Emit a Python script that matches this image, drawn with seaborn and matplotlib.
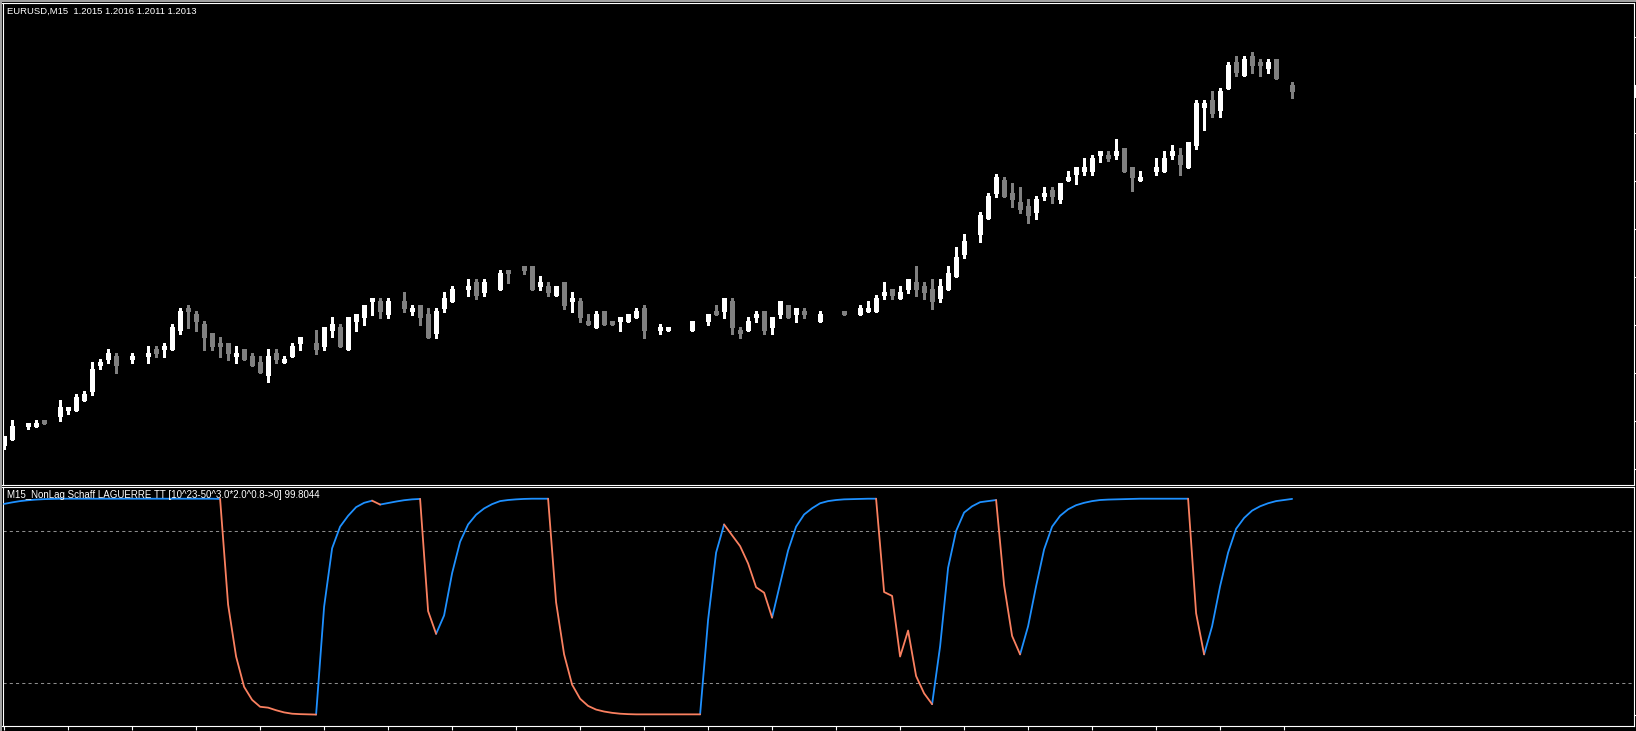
import numpy as np
import pandas as pd
import matplotlib
matplotlib.use("Agg")
import matplotlib.pyplot as plt
import matplotlib.transforms as mtransforms
from matplotlib.patches import Rectangle
import seaborn as sns

nan = np.nan

# ---------------- data (EURUSD M15) ----------------
symbol_title = "EURUSD,M15  1.2015 1.2016 1.2011 1.2013"
indicator_title = "M15_NonLag Schaff LAGUERRE TT [10^23-50^3.0*2.0^0.8->0] 99.8044"

open_ = [1.19024, 1.19043, nan, 1.19084, 1.19084, 1.19104, nan, 1.19115, 1.19133, 1.19134,
         1.19164, 1.19193, 1.19273, 1.19292, 1.19305, nan, 1.19292, nan, 1.19301, 1.19326,
         1.19323, 1.19323, 1.19383, 1.19455, 1.19436, 1.19405, 1.19376, 1.19345, 1.19345, 1.19301,
         1.19326, 1.19305, 1.19286, 1.19242, 1.19314, 1.19283, 1.19301, 1.19342, nan, 1.19345,
         1.19333, 1.19384, 1.19395, 1.19323, 1.19411, 1.19423, 1.19473, 1.19476, 1.19433, nan,
         1.19476, 1.19442, 1.19464, 1.19436, 1.19373, 1.19451, 1.19473, nan, 1.19511, 1.19536,
         1.19501, nan, 1.19511, 1.19573, nan, 1.19586, 1.19586, 1.19520, 1.19523, 1.19492,
         1.19536, 1.19473, 1.19476, 1.19414, 1.19392, 1.19445, 1.19414, 1.19411, 1.19411, 1.19423,
         1.19455, nan, 1.19383, 1.19383, nan, nan, 1.19383, nan, 1.19411, 1.19445,
         1.19442, 1.19476, 1.19386, 1.19383, 1.19423, 1.19445, 1.19392, 1.19433, 1.19464, 1.19433,
         1.19445, nan, 1.19411, nan, nan, 1.19445, nan, 1.19433, 1.19442, 1.19442,
         1.19492, 1.19514, 1.19483, 1.19511, 1.19536, 1.19523, 1.19514, 1.19483, 1.19511, 1.19551,
         1.19620, nan, 1.19683, 1.19733, 1.19811, 1.19855, 1.19814, 1.19786, 1.19773, 1.19751,
         1.19801, 1.19823, 1.19792, 1.19851, 1.19870, 1.19880, 1.19880, 1.19930, 1.19933, 1.19930,
         1.19955, 1.19895, 1.19851, nan, 1.19880, 1.19880, 1.19930, 1.19933, 1.19892, 1.19961,
         1.20080, 1.20105, 1.20070, 1.20139, 1.20223, 1.20180, 1.20242, 1.20223, 1.20201, 1.20233,
         nan, 1.20150]

high = [1.19055, 1.19104, nan, 1.19095, 1.19104, 1.19104, nan, 1.19167, 1.19145, 1.19185,
        1.19194, 1.19286, 1.19295, 1.19326, 1.19314, nan, 1.19314, nan, 1.19336, 1.19336,
        1.19345, 1.19405, 1.19455, 1.19464, 1.19445, 1.19414, 1.19376, 1.19364, 1.19345, 1.19336,
        1.19326, 1.19314, 1.19305, 1.19326, 1.19326, 1.19305, 1.19345, 1.19364, nan, 1.19386,
        1.19395, 1.19426, 1.19405, 1.19426, 1.19436, 1.19464, 1.19486, 1.19486, 1.19486, nan,
        1.19505, 1.19464, 1.19464, 1.19455, 1.19455, 1.19505, 1.19523, nan, 1.19545, 1.19545,
        1.19545, nan, 1.19573, 1.19573, nan, 1.19586, 1.19586, 1.19555, 1.19536, 1.19523,
        1.19536, 1.19505, 1.19486, 1.19436, 1.19445, 1.19445, 1.19414, 1.19426, 1.19436, 1.19455,
        1.19464, nan, 1.19405, 1.19395, nan, nan, 1.19414, nan, 1.19436, 1.19464,
        1.19486, 1.19486, 1.19395, 1.19426, 1.19445, 1.19445, 1.19426, 1.19476, 1.19464, 1.19455,
        1.19455, nan, 1.19445, nan, nan, 1.19445, nan, 1.19464, 1.19476, 1.19495,
        1.19536, 1.19514, 1.19523, 1.19545, 1.19586, 1.19536, 1.19545, 1.19545, 1.19586, 1.19645,
        1.19686, nan, 1.19755, 1.19814, 1.19873, 1.19864, 1.19845, 1.19833, 1.19795, 1.19805,
        1.19833, 1.19833, 1.19845, 1.19883, 1.19895, 1.19923, 1.19933, 1.19945, 1.19945, 1.19983,
        1.19955, 1.19895, 1.19883, nan, 1.19923, 1.19945, 1.19964, 1.19955, 1.19973, 1.20105,
        1.20105, 1.20133, 1.20142, 1.20223, 1.20242, 1.20242, 1.20255, 1.20233, 1.20233, 1.20233,
        nan, 1.20160]

low = [1.19014, 1.19043, nan, 1.19075, 1.19084, 1.19093, nan, 1.19102, 1.19124, 1.19134,
       1.19164, 1.19183, 1.19263, 1.19284, 1.19252, nan, 1.19284, nan, 1.19284, 1.19301,
       1.19301, 1.19323, 1.19373, 1.19392, 1.19383, 1.19323, 1.19323, 1.19301, 1.19292, 1.19283,
       1.19292, 1.19273, 1.19252, 1.19223, 1.19283, 1.19283, 1.19301, 1.19323, nan, 1.19311,
       1.19323, 1.19363, 1.19334, 1.19323, 1.19384, 1.19401, 1.19433, 1.19423, 1.19423, nan,
       1.19442, 1.19433, 1.19401, 1.19361, 1.19361, 1.19442, 1.19473, nan, 1.19492, 1.19483,
       1.19492, nan, 1.19511, 1.19533, nan, 1.19561, 1.19511, 1.19511, 1.19492, 1.19492,
       1.19451, 1.19442, 1.19411, 1.19401, 1.19392, 1.19401, 1.19401, 1.19383, 1.19411, 1.19423,
       1.19361, nan, 1.19373, 1.19383, nan, nan, 1.19383, nan, 1.19401, 1.19433,
       1.19423, 1.19373, 1.19361, 1.19383, 1.19411, 1.19373, 1.19373, 1.19423, 1.19423, 1.19411,
       1.19423, nan, 1.19411, nan, nan, 1.19433, nan, 1.19433, 1.19442, 1.19442,
       1.19483, 1.19483, 1.19483, 1.19501, 1.19492, 1.19483, 1.19451, 1.19473, 1.19511, 1.19551,
       1.19611, nan, 1.19661, 1.19733, 1.19801, 1.19801, 1.19770, 1.19751, 1.19720, 1.19733,
       1.19792, 1.19783, 1.19783, 1.19851, 1.19842, 1.19870, 1.19870, 1.19911, 1.19914, 1.19920,
       1.19880, 1.19820, 1.19851, nan, 1.19870, 1.19880, 1.19920, 1.19870, 1.19892, 1.19951,
       1.20011, 1.20051, 1.20051, 1.20139, 1.20180, 1.20180, 1.20189, 1.20180, 1.20189, 1.20170,
       nan, 1.20110]

close = [1.19055, 1.19086, nan, 1.19095, 1.19095, 1.19093, nan, 1.19145, 1.19145, 1.19176,
         1.19186, 1.19264, 1.19287, 1.19314, 1.19273, nan, 1.19305, nan, 1.19314, 1.19311,
         1.19336, 1.19395, 1.19445, 1.19442, 1.19411, 1.19361, 1.19333, 1.19333, 1.19311, 1.19314,
         1.19292, 1.19273, 1.19252, 1.19305, 1.19292, 1.19295, 1.19336, 1.19364, nan, 1.19323,
         1.19395, 1.19405, 1.19334, 1.19426, 1.19436, 1.19464, 1.19486, 1.19442, 1.19476, nan,
         1.19451, 1.19455, 1.19423, 1.19361, 1.19445, 1.19486, 1.19514, nan, 1.19523, 1.19492,
         1.19536, nan, 1.19564, 1.19561, nan, 1.19570, 1.19511, 1.19536, 1.19501, 1.19523,
         1.19461, 1.19486, 1.19423, 1.19401, 1.19436, 1.19401, 1.19401, 1.19426, 1.19436, 1.19445,
         1.19383, nan, 1.19395, 1.19395, nan, nan, 1.19414, nan, 1.19436, 1.19433,
         1.19486, 1.19392, 1.19373, 1.19414, 1.19436, 1.19383, 1.19426, 1.19476, 1.19423, 1.19455,
         1.19433, nan, 1.19436, nan, nan, 1.19433, nan, 1.19455, 1.19455, 1.19486,
         1.19505, 1.19492, 1.19505, 1.19545, 1.19511, 1.19501, 1.19473, 1.19523, 1.19564, 1.19614,
         1.19664, nan, 1.19745, 1.19805, 1.19864, 1.19801, 1.19792, 1.19761, 1.19742, 1.19795,
         1.19814, 1.19801, 1.19845, 1.19864, 1.19895, 1.19895, 1.19923, 1.19945, 1.19920, 1.19945,
         1.19880, 1.19861, 1.19864, nan, 1.19895, 1.19923, 1.19945, 1.19901, 1.19973, 1.20095,
         1.20095, 1.20061, 1.20133, 1.20214, 1.20189, 1.20233, 1.20211, 1.20211, 1.20223, 1.20170,
         nan, 1.20130]

schaff = [97.5, 98.2, 98.8, 99.2, 99.5, 99.7, 99.8, 99.9, 99.9, 99.9,
          99.9, 99.9, 99.9, 99.9, 99.9, 99.9, 99.9, 99.9, 99.9, 99.9,
          99.9, 99.9, 99.9, 99.9, 99.9, 99.9, 99.9, 99.8, 51.0, 27.0,
          13.0, 7.0, 3.8, 3.4, 2.2, 1.2, 0.6, 0.4, 0.3, 0.2,
          50.0, 77.0, 87.0, 92.0, 96.0, 98.0, 99.0, 97.2, 97.9, 98.6,
          99.2, 99.6, 99.8, 48.0, 37.5, 46.0, 65.5, 80.0, 88.0, 92.5,
          95.4, 97.4, 98.8, 99.3, 99.6, 99.8, 99.9, 99.9, 99.9, 52.0,
          28.0, 14.0, 7.5, 4.2, 2.5, 1.6, 1.0, 0.6, 0.4, 0.3,
          0.3, 0.3, 0.3, 0.3, 0.3, 0.3, 0.3, 0.3, 44.0, 75.0,
          88.0, 83.0, 78.0, 70.0, 59.0, 56.5, 45.0, 60.6, 76.0, 87.0,
          92.6, 95.5, 97.8, 98.8, 99.3, 99.6, 99.7, 99.8, 99.9, 99.9,
          56.8, 55.0, 27.0, 39.0, 18.0, 10.0, 5.0, 31.7, 68.0, 85.0,
          93.5, 96.4, 98.3, 98.8, 99.3, 60.0, 36.5, 28.0, 41.0, 59.5,
          76.5, 87.0, 92.0, 95.0, 96.9, 98.0, 98.8, 99.3, 99.5, 99.6,
          99.7, 99.8, 99.9, 99.9, 99.9, 99.9, 99.9, 99.9, 99.9, 47.0,
          28.0, 41.0, 59.5, 75.0, 86.0, 91.0, 94.4, 96.4, 97.8, 98.8,
          99.3, 99.8044]

# bars (first, last) of the falling (orange) stretches of the oscillator
down_segments = [(27, 39), (46, 47), (52, 54), (68, 87), (90, 96), (109, 116), (124, 127), (148, 150)]
levels = [15, 85]
price_grid = [1.1895, 1.1910, 1.1925, 1.1940, 1.1955, 1.1970, 1.1985, 1.2000, 1.2015, 1.2030]
time_tick_step = 8

# ---------------- styling ----------------
sns.set_theme(style="dark", rc={"axes.facecolor": "black", "figure.facecolor": "black",
                                "axes.grid": False})
plt.rcParams['font.family'] = ['Liberation Sans', 'DejaVu Sans']

W, H = 1636, 731
fig = plt.figure(figsize=(W / 100, H / 100), dpi=100, facecolor="black")


def px_rect(x0, y0, x1, y1):
    return [x0 / W, 1 - y1 / H, (x1 - x0) / W, (y1 - y0) / H]


ax1 = fig.add_axes(px_rect(2.5, 2.5, 1633.5, 484.5))
ax2 = fig.add_axes(px_rect(2.5, 486.5, 1633.5, 726.0))

# thin grey window frame (top / left)
fig.patches.append(Rectangle((0, 1 - 2 / H), 1, 2 / H, transform=fig.transFigure,
                             facecolor="#a0a0a0", edgecolor="none", zorder=-1))
fig.patches.append(Rectangle((0, 0), 2 / W, 1, transform=fig.transFigure,
                             facecolor="#a0a0a0", edgecolor="none", zorder=-1))

n = len(schaff)
bars = np.arange(n)

# ---------------- candles ----------------
cdf = pd.DataFrame({"bar": bars, "open": open_, "high": high, "low": low, "close": close}).dropna()
bull = cdf["close"] >= cdf["open"]
ccol = np.where(bull, "#ffffff", "#808080")
ax1.vlines(cdf["bar"], cdf["low"], cdf["high"], colors=ccol, linewidth=0.8, antialiased=False, zorder=2)
ax1.bar(cdf["bar"], (cdf["close"] - cdf["open"]).abs(), bottom=cdf[["open", "close"]].min(axis=1),
        width=0.62, color=ccol, linewidth=0, antialiased=False, zorder=3)

xmin = -0.2
xmax = xmin + (1633.5 - 2.5) / 8.0
ax1.set_xlim(xmin, xmax)
ax1.set_ylim(1.189029, 1.204092)

# price label stub at the right edge (mostly outside the visible area)
blend = mtransforms.blended_transform_factory(ax1.transAxes, ax1.transData)
last_close = [c for c in close if not np.isnan(c)][-1]
ax1.add_patch(Rectangle((1.0007, last_close - 0.00018), 0.02, 0.00036, transform=blend,
                        facecolor="white", edgecolor="none", clip_on=False, zorder=5))

# ---------------- oscillator ----------------
odf = pd.DataFrame({"bar": bars, "value": schaff})
up_segments = []
prev = 0
for a, b in down_segments:
    if a > prev:
        up_segments.append((prev, a))
    prev = b
if prev < n - 1:
    up_segments.append((prev, n - 1))


def seg_frame(segs):
    parts = []
    for k, (a, b) in enumerate(segs):
        part = odf.iloc[a:b + 1].copy()
        part["seg"] = k
        parts.append(part)
    return pd.concat(parts, ignore_index=True)


for lv in levels:
    ax2.axhline(lv, color="#8c8c8c", linewidth=0.75, linestyle=(0, (3, 3)), zorder=1)

sns.lineplot(data=seg_frame(up_segments), x="bar", y="value", units="seg", estimator=None,
             color="#1e90ff", linewidth=1.3, ax=ax2, legend=False, zorder=3)
sns.lineplot(data=seg_frame(down_segments), x="bar", y="value", units="seg", estimator=None,
             color="#fa8060", linewidth=1.3, ax=ax2, legend=False, zorder=3)
ax2.set_xlim(xmin, xmax)
ax2.set_ylim(-5.08, 105.54)

# ---------------- axes cosmetics ----------------
for ax in (ax1, ax2):
    ax.set_xlabel("")
    ax.set_ylabel("")
    for sp in ax.spines.values():
        sp.set_color("white")
        sp.set_linewidth(0.8)
        sp.set_visible(True)
    ax.yaxis.tick_right()

ax1.set_xticks([])
ax1.set_yticks(price_grid)
ax1.tick_params(axis="y", which="both", direction="out", length=2.5, width=0.8, color="white",
                labelright=False, labelleft=False, right=True, left=False)

ax2.set_xticks(bars[::time_tick_step])
ax2.tick_params(axis="x", direction="out", length=3, width=0.8, color="white",
                labelbottom=False, bottom=True)
ax2.set_yticks([0])
ax2.tick_params(axis="y", direction="out", length=2.5, width=0.8, color="white",
                labelright=False, labelleft=False, right=True, left=False)

# ---------------- texts ----------------
fig.text(7 / W, 1 - 11.5 / H, symbol_title, color="white", fontsize=6.8, va="center", ha="left")
fig.text(7 / W, 1 - 495.0 / H, indicator_title, color="white", fontsize=7.0, va="center",
         ha="left", zorder=10)

fig.savefig("out.png", dpi=100, facecolor=fig.get_facecolor())
